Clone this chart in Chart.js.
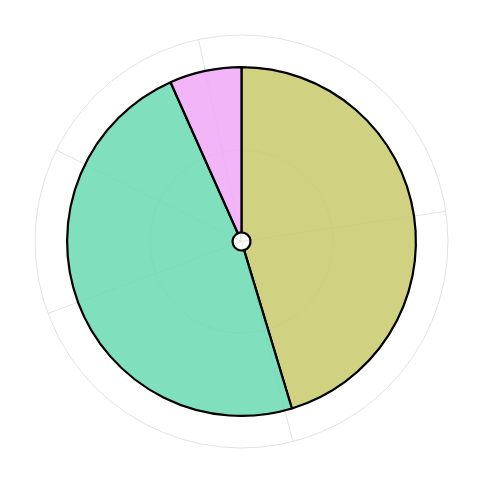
<!DOCTYPE html>
<html>
<head>
<meta charset="utf-8">
<script src="https://cdn.jsdelivr.net/npm/chart.js@4.4.1/dist/chart.umd.min.js"></script>
<style>
  html, body { margin: 0; padding: 0; background: #fff; }
  #wrap { width: 480px; height: 480px; }
</style>
</head>
<body>
<div id="wrap"><canvas id="pie" width="480" height="480"></canvas></div>
<script>
const categories = ['A', 'B', 'C'];
const values = [68, 72, 10];
const sliceColors = ['rgba(201,201,108,0.85)', 'rgba(106,217,177,0.85)', 'rgba(238,168,247,0.85)'];

// faint polar grid, shows through the slightly translucent slices
const gridRings = [91.5, 206.5];
const gridSpokes = [348, 81.6, 165.6, 249.6, 296.3]; // degrees clockwise from top

const polarGrid = {
  id: 'polarGrid',
  beforeDatasetsDraw(chart) {
    const arc = chart.getDatasetMeta(0).data[0];
    if (!arc) return;
    const { x, y } = arc;
    const ctx = chart.ctx;
    ctx.save();
    ctx.strokeStyle = '#e2e2e2';
    ctx.lineWidth = 1;
    gridRings.forEach(r => {
      ctx.beginPath();
      ctx.arc(x, y, r, 0, Math.PI * 2);
      ctx.stroke();
    });
    const outer = gridRings[gridRings.length - 1];
    gridSpokes.forEach(deg => {
      const a = (deg - 90) * Math.PI / 180;
      ctx.beginPath();
      ctx.moveTo(x, y);
      ctx.lineTo(x + outer * Math.cos(a), y + outer * Math.sin(a));
      ctx.stroke();
    });
    ctx.restore();
  }
};

new Chart(document.getElementById('pie'), {
  type: 'doughnut',
  data: {
    labels: categories,
    datasets: [{
      data: values,
      backgroundColor: sliceColors,
      borderColor: '#000',
      borderWidth: 2.2
    }]
  },
  options: {
    responsive: false,
    animation: false,
    cutout: 9,
    layout: { padding: { left: 66, right: 63, top: 66, bottom: 63 } },
    plugins: {
      legend: { display: false },
      tooltip: { enabled: false }
    }
  },
  plugins: [polarGrid]
});
</script>
</body>
</html>
